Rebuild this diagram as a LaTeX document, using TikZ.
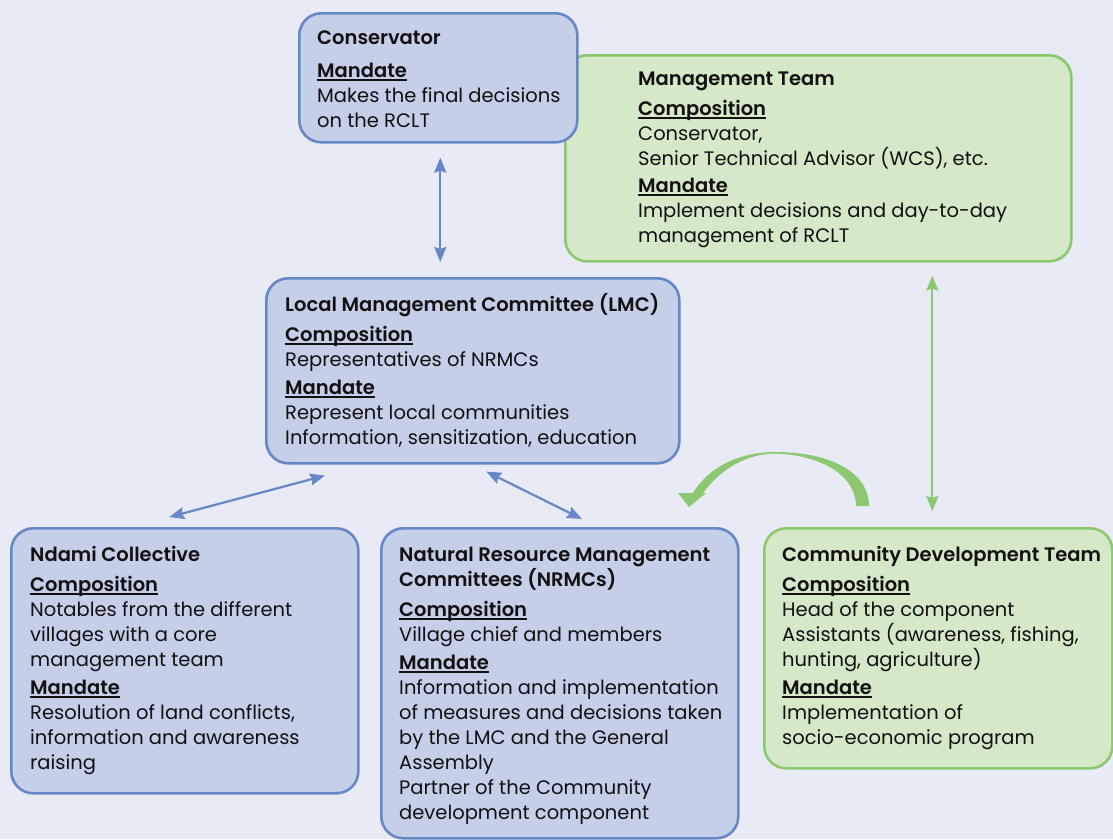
\documentclass[tikz,border=0pt]{standalone}
\usepackage{fontspec}
\setmainfont{Poppins}[BoldFont={Poppins SemiBold}]
\usetikzlibrary{arrows.meta,calc}

\definecolor{bg}{HTML}{E8EAF5}
\definecolor{bluefill}{HTML}{C6CFE8}
\definecolor{blueline}{HTML}{6787C6}
\definecolor{greenfill}{HTML}{D5E8C8}
\definecolor{greenline}{HTML}{8CC870}
\definecolor{bodycol}{HTML}{333333}
\definecolor{titlecol}{HTML}{111111}

% title, underlined heading and text block of a box (one paragraph per line)
\newcommand\boxtitle[1]{\leavevmode{\color{titlecol}\bfseries #1}\par}
\newcommand\boxhead[1]{\leavevmode\setbox0\hbox{\color{titlecol}\bfseries #1}\rlap{\color{titlecol}\rule[-3.5pt]{\wd0}{1.3pt}}\box0\par}
\newcommand\boxline[1]{\leavevmode#1\par}
\newcommand\boxgap[1]{\vspace{#1}}
\newcommand\boxtext[1]{\parbox[t]{420pt}{\fontsize{19.5pt}{25pt}\selectfont\parindent=0pt\parskip=0pt#1}}

\tikzset{
  panel/.style={rounded corners=22pt, line width=2.6pt, anchor=north west, inner sep=0pt},
  bluepanel/.style={panel, draw=blueline, fill=bluefill},
  greenpanel/.style={panel, draw=greenline, fill=greenfill},
  paneltext/.style={anchor=base west, inner sep=0pt, text=bodycol},
  bluelink/.style={draw=blueline, line width=2.2pt, {Stealth[length=15pt,width=12pt,inset=2pt]}-{Stealth[length=15pt,width=12pt,inset=2pt]}},
  greenlink/.style={draw=greenline, line width=2.2pt, {Stealth[length=15pt,width=12pt,inset=2pt]}-{Stealth[length=15pt,width=12pt,inset=2pt]}},
}

\begin{document}
\begin{tikzpicture}[x=1pt, y=-1pt]
  \fill[bg] (0,0) rectangle (1113,839);
  \useasboundingbox (0,0) rectangle (1113,839);

  % boxes
  \node[greenpanel, minimum width=506pt, minimum height=206pt] (mt) at (564,54) {};
  \node[bluepanel, minimum width=278pt, minimum height=129pt] (cons) at (298,12) {};
  \node[bluepanel, minimum width=413pt, minimum height=185pt] (lmc) at (265,277) {};
  \node[bluepanel, minimum width=347pt, minimum height=265pt] (ndami) at (10,527) {};
  \node[bluepanel, minimum width=357pt, minimum height=310pt] (nrmc) at (380,527) {};
  \node[greenpanel, minimum width=348pt, minimum height=240pt] (cdt) at (763,527) {};

  % texts
  \node[paneltext] (cons-t) at (317,44) {\boxtext{%
    \boxtitle{Conservator}\boxgap{8pt}%
    \boxhead{Mandate}%
    \boxline{Makes the final decisions}%
    \boxline{on the RCLT}}};

  \node[paneltext] (mt-t) at (638,85) {\boxtext{%
    \boxtitle{Management Team}\boxgap{5pt}%
    \boxhead{Composition}%
    \boxline{Conservator,}%
    \boxline{Senior Technical Advisor (WCS), etc.}\boxgap{2pt}%
    \boxhead{Mandate}%
    \boxline{Implement decisions and day-to-day}%
    \boxline{management of RCLT}}};

  \node[paneltext] (lmc-t) at (285,311) {\boxtext{%
    \boxtitle{Local Management Committee (LMC)}\boxgap{5pt}%
    \boxhead{Composition}%
    \boxline{Representatives of NRMCs}\boxgap{3pt}%
    \boxhead{Mandate}%
    \boxline{Represent local communities}%
    \boxline{Information, sensitization, education}}};

  \node[paneltext] (ndami-t) at (30,561) {\boxtext{%
    \boxtitle{Ndami Collective}\boxgap{5pt}%
    \boxhead{Composition}%
    \boxline{Notables from the different}%
    \boxline{villages with a core}%
    \boxline{management team}\boxgap{3pt}%
    \boxhead{Mandate}%
    \boxline{Resolution of land conflicts,}%
    \boxline{information and awareness}%
    \boxline{raising}}};

  \node[paneltext] (nrmc-t) at (399,561) {\boxtext{%
    \boxtitle{Natural Resource Management}%
    \boxtitle{Committees (NRMCs)}\boxgap{5pt}%
    \boxhead{Composition}%
    \boxline{Village chief and members}\boxgap{3pt}%
    \boxhead{Mandate}%
    \boxline{Information and implementation}%
    \boxline{of measures and decisions taken}%
    \boxline{by the LMC and the General}%
    \boxline{Assembly}%
    \boxline{Partner of the Community}%
    \boxline{development component}}};

  \node[paneltext] (cdt-t) at (782,561) {\boxtext{%
    \boxtitle{Community Development Team}\boxgap{5pt}%
    \boxhead{Composition}%
    \boxline{Head of the component}%
    \boxline{Assistants (awareness, fishing,}%
    \boxline{hunting, agriculture)}\boxgap{3pt}%
    \boxhead{Mandate}%
    \boxline{Implementation of}%
    \boxline{socio-economic program}}};

  % connectors
  \draw[bluelink] ($(cons.south)+(2,14)$) -- ($(lmc.north)+(-32.5,-15)$);
  \draw[bluelink] ($(lmc.south west)+(60,11)$) -- ($(ndami.north)+(-15.5,-10)$);
  \draw[bluelink] ($(lmc.south)+(13.5,7)$) -- ($(nrmc.north west)+(202,-8)$);
  \draw[greenlink] ($(mt.south)+(114,13)$) -- ($(cdt.north)+(-6,-16)$);

  % curved block arrow from the community team towards the NRMCs
  \fill[greenline]
    (856,506) -- (869,506)
    .. controls (869,472) and (830,452) .. (775,452)
    .. controls (738,452) and (708,468) .. (693,493)
    -- (678,493) -- (689,507) -- (706,493) -- (703,493)
    .. controls (720,470) and (745,454) .. (775,453.5)
    .. controls (822,455) and (856,476) .. (856,506) -- cycle;
\end{tikzpicture}
\end{document}
